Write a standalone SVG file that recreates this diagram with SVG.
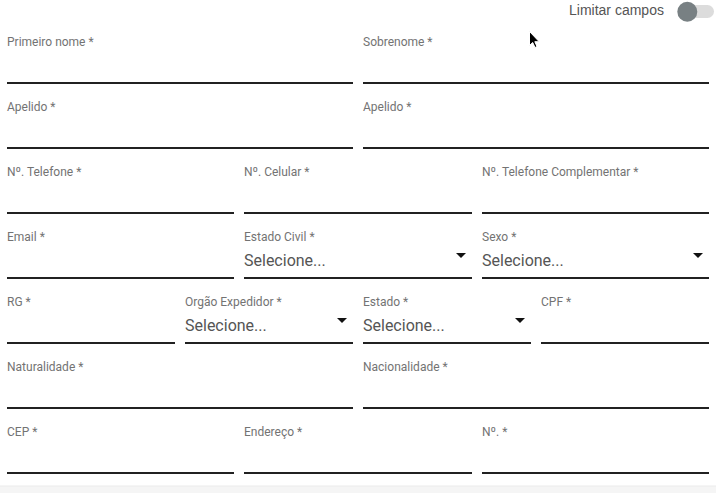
<svg xmlns="http://www.w3.org/2000/svg" width="716" height="493" viewBox="0 0 716 493">
<style>
.lbl{font-family:Roboto,"Liberation Sans",sans-serif;font-size:12px;fill:#737373}
.sel{font-family:Roboto,"Liberation Sans",sans-serif;font-size:16px;fill:#555}
.ln{fill:#212121}
.arr{fill:#111}
</style>
<rect width="716" height="493" fill="#fff"/>
<g id="toggle">
<text x="569" y="15" font-family="'Liberation Sans',Arial,sans-serif" font-size="14" fill="#555">Limitar campos</text>
<rect x="681" y="5" width="33" height="13" rx="6.5" fill="#dcdcdc"/>
<circle cx="687.3" cy="11.7" r="10" fill="#788083"/>
</g>
<g id="f-primeiro"><text class="lbl" x="7" y="46">Primeiro nome *</text><rect class="ln" x="7" y="82" width="346" height="2"/></g>
<g id="f-sobrenome"><text class="lbl" x="363" y="46">Sobrenome *</text><rect class="ln" x="363" y="82" width="346" height="2"/></g>
<g id="f-apelido1"><text class="lbl" x="7" y="111">Apelido *</text><rect class="ln" x="7" y="147" width="346" height="2"/></g>
<g id="f-apelido2"><text class="lbl" x="363" y="111">Apelido *</text><rect class="ln" x="363" y="147" width="346" height="2"/></g>
<g id="f-telefone"><text class="lbl" x="7" y="176">Nº. Telefone *</text><rect class="ln" x="7" y="212" width="227" height="2"/></g>
<g id="f-celular"><text class="lbl" x="244" y="176">Nº. Celular *</text><rect class="ln" x="244" y="212" width="228" height="2"/></g>
<g id="f-telcomp"><text class="lbl" x="482" y="176">Nº. Telefone Complementar *</text><rect class="ln" x="482" y="212" width="227" height="2"/></g>
<g id="f-email"><text class="lbl" x="7" y="241">Email *</text><rect class="ln" x="7" y="277" width="227" height="2"/></g>
<g id="f-estadocivil"><text class="lbl" x="244" y="241">Estado Civil *</text><text class="sel" x="244" y="266">Selecione...</text><path class="arr" d="M456 253h10l-5 5z"/><rect class="ln" x="244" y="277" width="228" height="2"/></g>
<g id="f-sexo"><text class="lbl" x="482" y="241">Sexo *</text><text class="sel" x="482" y="266">Selecione...</text><path class="arr" d="M693 253h10l-5 5z"/><rect class="ln" x="482" y="277" width="227" height="2"/></g>
<g id="f-rg"><text class="lbl" x="7" y="306">RG *</text><rect class="ln" x="7" y="342" width="168" height="2"/></g>
<g id="f-orgao"><text class="lbl" x="185" y="306">Orgão Expedidor *</text><text class="sel" x="185" y="331">Selecione...</text><path class="arr" d="M337 318h10l-5 5z"/><rect class="ln" x="185" y="342" width="168" height="2"/></g>
<g id="f-estado"><text class="lbl" x="363" y="306">Estado *</text><text class="sel" x="363" y="331">Selecione...</text><path class="arr" d="M515 318h10l-5 5z"/><rect class="ln" x="363" y="342" width="168" height="2"/></g>
<g id="f-cpf"><text class="lbl" x="541" y="306">CPF *</text><rect class="ln" x="541" y="342" width="168" height="2"/></g>
<g id="f-naturalidade"><text class="lbl" x="7" y="371">Naturalidade *</text><rect class="ln" x="7" y="407" width="346" height="2"/></g>
<g id="f-nacionalidade"><text class="lbl" x="363" y="371">Nacionalidade *</text><rect class="ln" x="363" y="407" width="346" height="2"/></g>
<g id="f-cep"><text class="lbl" x="7" y="436">CEP *</text><rect class="ln" x="7" y="472" width="227" height="2"/></g>
<g id="f-endereco"><text class="lbl" x="244" y="436">Endereço *</text><rect class="ln" x="244" y="472" width="228" height="2"/></g>
<g id="f-numero"><text class="lbl" x="482" y="436">Nº. *</text><rect class="ln" x="482" y="472" width="227" height="2"/></g>
<g id="connectors"/>
<rect x="0" y="486" width="716" height="7" fill="#f5f5f5"/>
<rect x="0" y="485.5" width="716" height="1" fill="#ececec"/>
<path d="M529.5 31.5v14l3.2-3 2.3 5 2-1-2.2-4.8h4.4z" fill="#000" stroke="#fff" stroke-width="1"/>
</svg>
